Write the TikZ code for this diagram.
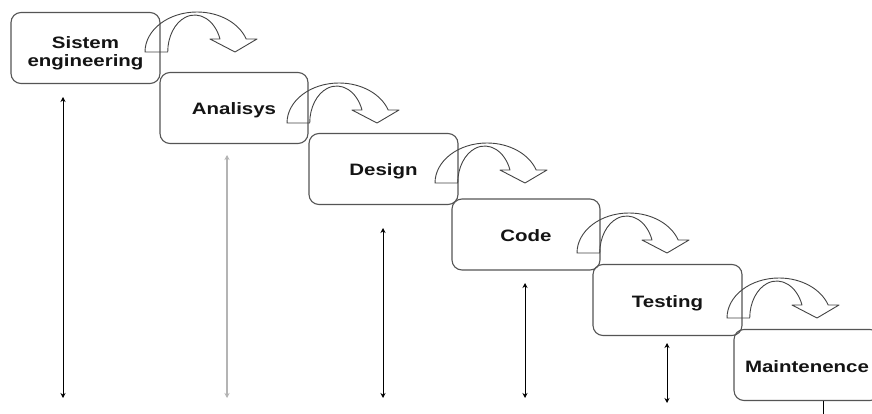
\documentclass[tikz,border=0pt]{standalone}
\usepackage{fontspec}
\usepackage{graphicx}
\setmainfont{Liberation Sans}
\usetikzlibrary{arrows.meta}
\definecolor{boxgray}{HTML}{555555}
\definecolor{flowgray}{HTML}{444444}
\definecolor{paleline}{HTML}{B4B4B4}
% stage labels are set in a widened bold sans
\newcommand{\widetxt}[1]{\scalebox{1.24}[1]{#1}}

\tikzset{
  stepbox/.style={draw=boxgray, line width=1.1pt, rounded corners=10pt,
    minimum height=71pt, inner sep=0pt, align=center, text=black!92,
    font=\fontsize{16.5}{19}\selectfont\bfseries},
  oneline/.style={text height=16pt, text depth=2pt},
  flowline/.style={draw=flowgray, line width=0.9pt, line join=round},
  span/.style={line width=1pt, draw=black,
    {Stealth[length=5pt,width=5pt]}-{Stealth[length=5pt,width=5pt]}},
  % hollow curved arrow handing over to the next stage
  pics/bendarrow/.style={code={
    \draw[flowline] (0,0)
      arc[start angle=180, end angle=341, x radius=52, y radius=40]
      -- (112,-13) -- (90,0) -- (65,-13) -- (75,-13)
      arc[start angle=339.4, end angle=180, x radius=27, y radius=37]
      -- cycle;
  }}
}

\begin{document}
\begin{tikzpicture}[x=1pt,y=-1pt]
\clip (0,0) rectangle (872,414);
\fill[white] (0,0) rectangle (872,414);

% stages of the waterfall
\node[stepbox, minimum width=149pt] (sys)  at (85.5,48)  {\rule{0pt}{22pt}\widetxt{Sistem}\\[-1pt]\widetxt{engineering}};
\node[stepbox, oneline, minimum width=148pt] (ana)  at (234,108)  {\widetxt{Analisys}};
\node[stepbox, oneline, minimum width=149pt] (des)  at (383.5,169) {\widetxt{Design}};
\node[stepbox, oneline, minimum width=148pt] (cod)  at (526,234.5) {\widetxt{Code}};
\node[stepbox, oneline, minimum width=149pt] (tes)  at (667.5,300) {\widetxt{Testing}};
\node[stepbox, oneline, minimum width=146pt] (mai)  at (807,365)  {\widetxt{Maintenence}};

% hand-over arrows between stages
\pic at (145,52)  {bendarrow};
\pic at (287,123) {bendarrow};
\pic at (435,183) {bendarrow};
\pic at (577,253) {bendarrow};
\pic at (727,318) {bendarrow};

% duration spans under each stage
\coordinate (s1t) at (63,97);   \coordinate (s1b) at (63,398);
\coordinate (s2t) at (227,155); \coordinate (s2b) at (227,398);
\coordinate (s3t) at (383,228); \coordinate (s3b) at (383,398);
\coordinate (s4t) at (525,283); \coordinate (s4b) at (525,398);
\coordinate (s5t) at (667,343); \coordinate (s5b) at (667,403);
\coordinate (s6b) at (823,420);

\draw[span] (s1t) -- (s1b);
\draw[span, draw=paleline, line width=1.8pt] (s2t) -- (s2b);
\draw[span] (s3t) -- (s3b);
\draw[span] (s4t) -- (s4b);
\draw[span] (s5t) -- (s5b);
\draw[line width=1pt] (mai.south -| s6b) -- (s6b);
\end{tikzpicture}
\end{document}
